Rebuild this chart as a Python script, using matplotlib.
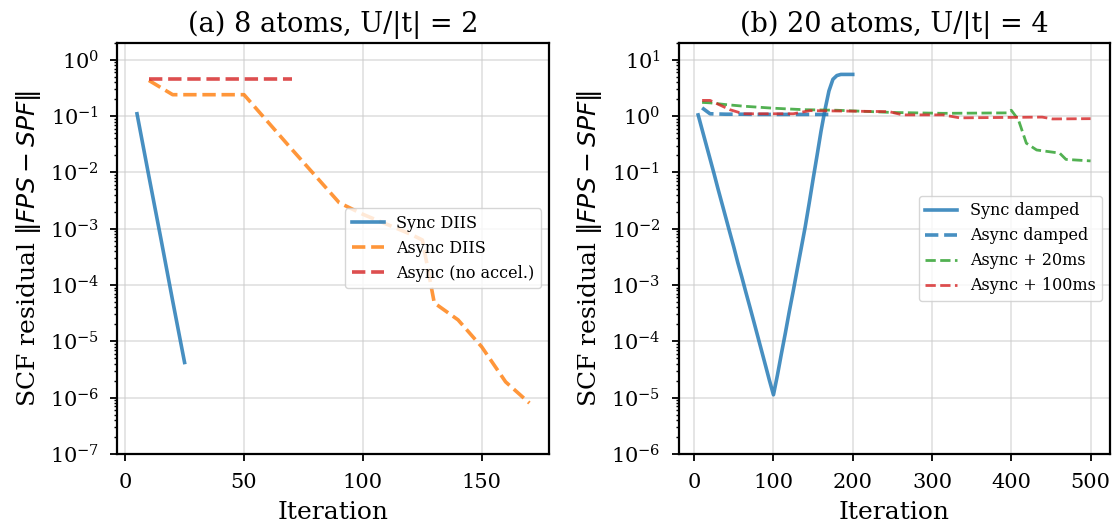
import matplotlib
matplotlib.use("Agg")
import matplotlib.pyplot as plt

# ---- Panel (a): 8 atoms, U/|t| = 2 ----
a_sync_x = [5, 10, 15, 20, 25]
a_sync_y = [0.11, 8.5e-3, 6.8e-4, 5.2e-5, 4.2e-6]

a_async_x = [10, 20, 30, 40, 50, 60, 70, 80, 90, 100, 110, 120, 125, 130, 140, 150, 160, 170]
a_async_y = [0.43, 0.24, 0.24, 0.24, 0.24, 0.079, 0.026, 8.7e-3, 2.9e-3, 1.8e-3, 1.2e-3,
             8.0e-4, 6.3e-4, 4.8e-5, 2.4e-5, 7.9e-6, 1.9e-6, 8.0e-7]

a_noacc_x = [10, 20, 30, 40, 50, 60, 70]
a_noacc_y = [0.46, 0.46, 0.46, 0.46, 0.46, 0.46, 0.46]

# ---- Panel (b): 20 atoms, U/|t| = 4 ----
b_sync_x = list(range(5, 205, 5))
b_sync_y = [1.05, 0.575, 0.316, 0.174, 0.0955, 0.0513, 0.0282, 0.0155, 8.5e-3, 4.7e-3,
            2.5e-3, 1.4e-3, 7.6e-4, 4.2e-4, 2.3e-4, 1.25e-4, 6.8e-5, 3.7e-5, 2.0e-5, 1.12e-5,
            2.5e-5, 6.0e-5, 1.4e-4, 3.4e-4, 7.9e-4, 1.9e-3, 4.5e-3, 0.0107, 0.028, 0.076,
            0.2, 0.54, 1.3, 2.8, 4.5, 5.25, 5.5, 5.5, 5.5, 5.5]

b_async_x = [10, 20, 40, 60, 80, 100, 120, 140, 160, 170]
b_async_y = [1.4, 1.1, 1.08, 1.08, 1.07, 1.07, 1.07, 1.07, 1.07, 1.07]

b_20ms_x = [10, 20, 40, 62, 100, 138, 180, 250, 314, 394, 400, 409, 419, 432, 461, 469, 500]
b_20ms_y = [1.75, 1.72, 1.6, 1.5, 1.38, 1.3, 1.27, 1.16, 1.12, 1.14, 1.27, 0.86, 0.33, 0.25,
            0.22, 0.17, 0.16]

b_100ms_x = [10, 20, 45, 62, 125, 146, 246, 263, 314, 335, 439, 452, 500]
b_100ms_y = [1.9, 1.9, 1.3, 1.1, 1.1, 1.25, 1.2, 1.05, 1.05, 0.93, 0.96, 0.89, 0.9]

titles = ["(a) 8 atoms, U/|t| = 2", "(b) 20 atoms, U/|t| = 4"]
xlabel = "Iteration"
ylabel = r"SCF residual $\|FPS - SPF\|$"

plt.rcParams["font.family"] = "DejaVu Serif"
plt.rcParams["axes.linewidth"] = 1.6
plt.rcParams["xtick.major.width"] = 1.3
plt.rcParams["ytick.major.width"] = 1.3
plt.rcParams["ytick.minor.width"] = 1.0
plt.rcParams["xtick.major.size"] = 5
plt.rcParams["ytick.major.size"] = 5

C_BLUE = "#1f77b4"
C_ORANGE = "#ff7f0e"
C_RED = "#d62728"
C_GREEN = "#2ca02c"
AL = 0.82

fig, (ax1, ax2) = plt.subplots(1, 2, figsize=(11.18, 5.29), dpi=100)
fig.subplots_adjust(left=0.105, right=0.993, top=0.919, bottom=0.142, wspace=0.30)

ax1.plot(a_sync_x, a_sync_y, color=C_BLUE, lw=2.6, alpha=AL, label="Sync DIIS")
ax1.plot(a_async_x, a_async_y, color=C_ORANGE, lw=2.6, ls="--", alpha=AL, label="Async DIIS")
ax1.plot(a_noacc_x, a_noacc_y, color=C_RED, lw=2.6, ls="--", alpha=AL, label="Async (no accel.)")
ax1.set_yscale("log")
ax1.set_ylim(1e-7, 2)

ax2.plot(b_sync_x, b_sync_y, color=C_BLUE, lw=2.6, alpha=AL, label="Sync damped")
ax2.plot(b_async_x, b_async_y, color=C_BLUE, lw=2.6, ls="--", alpha=AL, label="Async damped")
ax2.plot(b_20ms_x, b_20ms_y, color=C_GREEN, lw=2.0, ls="--", alpha=AL, label="Async + 20ms")
ax2.plot(b_100ms_x, b_100ms_y, color=C_RED, lw=2.0, ls="--", alpha=AL, label="Async + 100ms")
ax2.set_yscale("log")
ax2.set_ylim(1e-6, 20)

for ax, t in zip((ax1, ax2), titles):
    ax.set_title(t, fontsize=19.5, pad=8)
    ax.set_xlabel(xlabel, fontsize=18, labelpad=7)
    ax.set_ylabel(ylabel, fontsize=18, labelpad=5)
    ax.tick_params(axis="both", labelsize=15)
    ax.tick_params(axis="y", which="major", length=5, pad=8)
    ax.tick_params(axis="x", which="major", length=5, pad=8.5)
    ax.grid(True, which="major", color="#cccccc", alpha=0.6, lw=1.2)
    ax.legend(loc="center right", fontsize=11.5, framealpha=0.8, edgecolor="#cccccc")

fig.savefig("out.png", dpi=100)
